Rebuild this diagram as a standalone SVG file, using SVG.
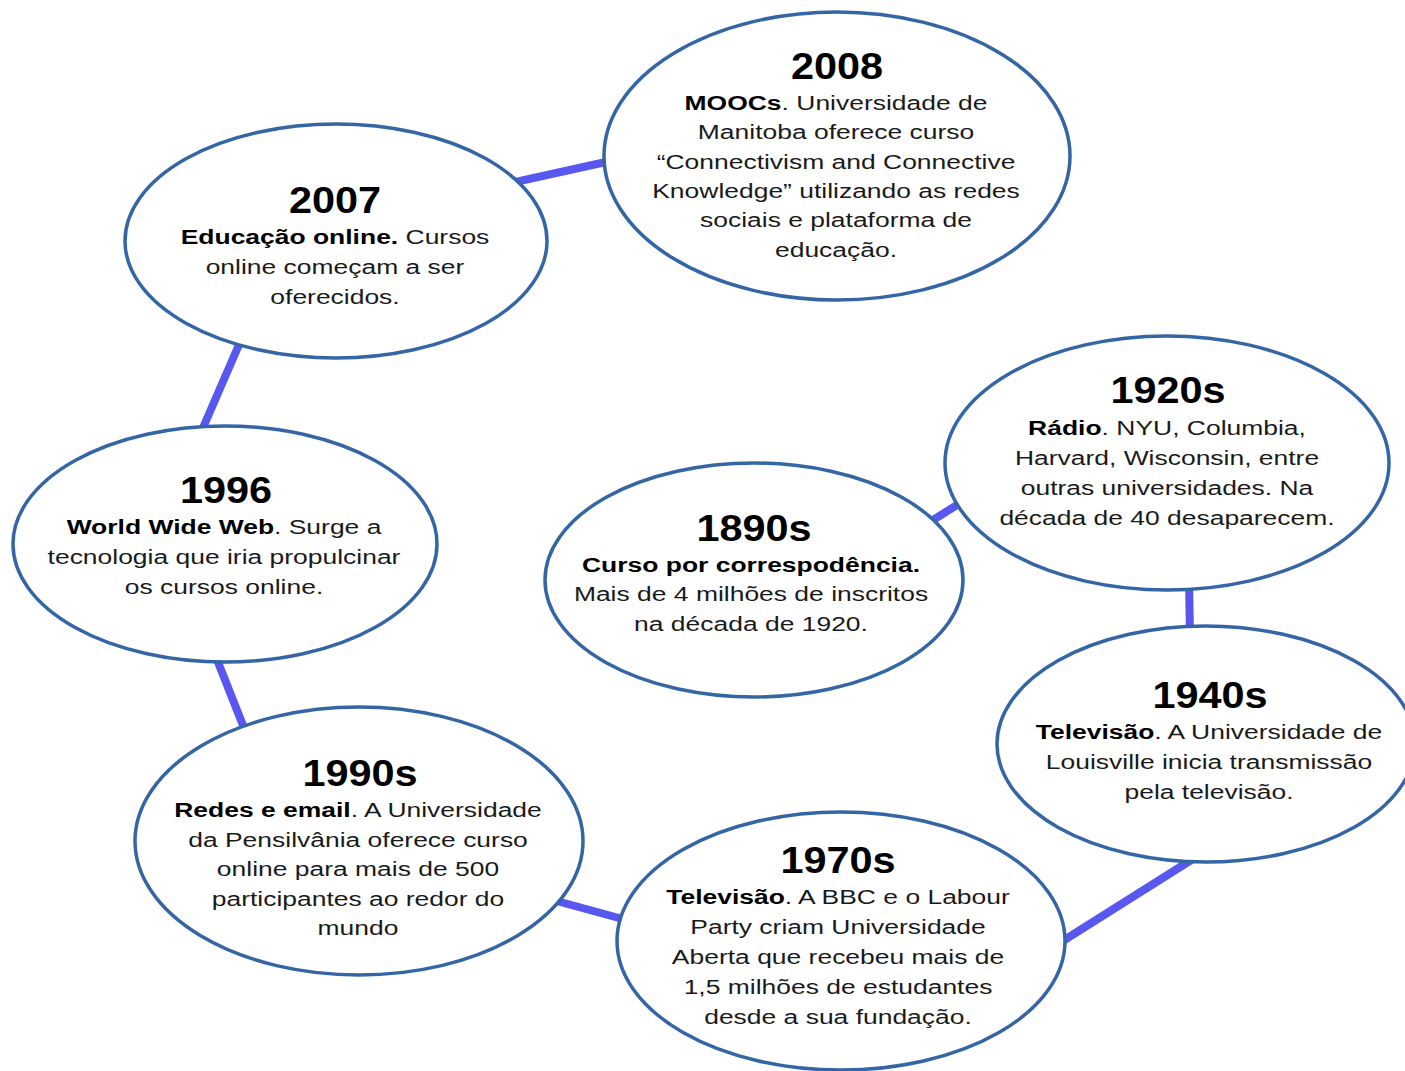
<svg xmlns="http://www.w3.org/2000/svg" width="1405" height="1071" viewBox="0 0 1405 1071">
<style>
.node ellipse{fill:#ffffff;stroke:#3465a4;stroke-width:3.5}
.conn line{stroke:#5858f0;stroke-width:8;stroke-linecap:butt}
.yr{font-family:"Liberation Sans",Arial,sans-serif;font-weight:bold;font-size:37px;fill:#000;text-anchor:middle}
.bd{font-family:"Liberation Sans",Arial,sans-serif;font-size:21px;fill:#1a1a1a;text-anchor:middle}
.b{font-weight:bold;fill:#000}
</style>
<rect width="1405" height="1071" fill="#ffffff"/>
<g id="connectors" class="conn">
<line x1="506" y1="184" x2="615" y2="160"/>
<line x1="241" y1="340" x2="199" y2="437"/>
<line x1="214" y1="652" x2="246" y2="733"/>
<line x1="553" y1="900" x2="630" y2="921"/>
<line x1="1058" y1="944" x2="1196" y2="857"/>
<line x1="1189" y1="580" x2="1190" y2="636"/>
<line x1="925" y1="525" x2="965" y2="500"/>
</g>
<g id="n2008" class="node">
<ellipse cx="837" cy="156" rx="233" ry="144"/>
<text class="yr" transform="translate(837,79) scale(1.12,1)">2008</text>
<g class="bd" transform="translate(836,0) scale(1.26,1)">
<text x="0" y="110"><tspan class="b">MOOCs</tspan>. Universidade de</text>
<text x="0" y="139">Manitoba oferece curso</text>
<text x="0" y="169">“Connectivism and Connective</text>
<text x="0" y="198">Knowledge” utilizando as redes</text>
<text x="0" y="227">sociais e plataforma de</text>
<text x="0" y="257">educação.</text>
</g>
</g>
<g id="n2007" class="node">
<ellipse cx="336" cy="241" rx="211" ry="117"/>
<text class="yr" transform="translate(335,213) scale(1.12,1)">2007</text>
<g class="bd" transform="translate(335,0) scale(1.26,1)">
<text x="0" y="244"><tspan class="b">Educação online.</tspan> Cursos</text>
<text x="0" y="274">online começam a ser</text>
<text x="0" y="304">oferecidos.</text>
</g>
</g>
<g id="n1996" class="node">
<ellipse cx="225" cy="544" rx="212" ry="118"/>
<text class="yr" transform="translate(226,503) scale(1.12,1)">1996</text>
<g class="bd" transform="translate(224,0) scale(1.26,1)">
<text x="0" y="534"><tspan class="b">World Wide Web</tspan>. Surge a</text>
<text x="0" y="564">tecnologia que iria propulcinar</text>
<text x="0" y="594">os cursos online.</text>
</g>
</g>
<g id="n1990s" class="node">
<ellipse cx="359" cy="841" rx="224" ry="134"/>
<text class="yr" transform="translate(360,786) scale(1.12,1)">1990s</text>
<g class="bd" transform="translate(358,0) scale(1.26,1)">
<text x="0" y="817"><tspan class="b">Redes e email</tspan>. A Universidade</text>
<text x="0" y="847">da Pensilvânia oferece curso</text>
<text x="0" y="876">online para mais de 500</text>
<text x="0" y="906">participantes ao redor do</text>
<text x="0" y="935">mundo</text>
</g>
</g>
<g id="n1970s" class="node">
<ellipse cx="841" cy="941" rx="224" ry="129"/>
<text class="yr" transform="translate(838,873) scale(1.12,1)">1970s</text>
<g class="bd" transform="translate(838,0) scale(1.26,1)">
<text x="0" y="904"><tspan class="b">Televisão</tspan>. A BBC e o Labour</text>
<text x="0" y="934">Party criam Universidade</text>
<text x="0" y="964">Aberta que recebeu mais de</text>
<text x="0" y="994">1,5 milhões de estudantes</text>
<text x="0" y="1024">desde a sua fundação.</text>
</g>
</g>
<g id="n1940s" class="node">
<ellipse cx="1206" cy="744" rx="209" ry="118"/>
<text class="yr" transform="translate(1210,708) scale(1.12,1)">1940s</text>
<g class="bd" transform="translate(1209,0) scale(1.26,1)">
<text x="0" y="739"><tspan class="b">Televisão</tspan>. A Universidade de</text>
<text x="0" y="769">Louisville inicia transmissão</text>
<text x="0" y="799">pela televisão.</text>
</g>
</g>
<g id="n1920s" class="node">
<ellipse cx="1167" cy="463" rx="222" ry="127"/>
<text class="yr" transform="translate(1168,403) scale(1.12,1)">1920s</text>
<g class="bd" transform="translate(1167,0) scale(1.26,1)">
<text x="0" y="435"><tspan class="b">Rádio</tspan>. NYU, Columbia,</text>
<text x="0" y="465">Harvard, Wisconsin, entre</text>
<text x="0" y="495">outras universidades. Na</text>
<text x="0" y="525">década de 40 desaparecem.</text>
</g>
</g>
<g id="n1890s" class="node">
<ellipse cx="754" cy="580" rx="209" ry="117"/>
<text class="yr" transform="translate(754,541) scale(1.12,1)">1890s</text>
<g class="bd" transform="translate(751,0) scale(1.26,1)">
<text x="0" y="572"><tspan class="b">Curso por correspodência.</tspan></text>
<text x="0" y="601">Mais de 4 milhões de inscritos</text>
<text x="0" y="631">na década de 1920.</text>
</g>
</g>
</svg>
